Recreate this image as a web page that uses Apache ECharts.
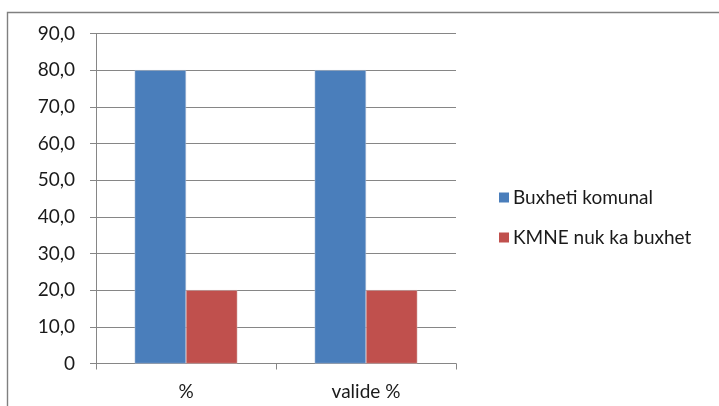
<!DOCTYPE html>
<html>
<head>
<meta charset="utf-8">
<script src="https://cdn.jsdelivr.net/npm/echarts@6/dist/echarts.min.js"></script>
<style>
  html, body { margin: 0; padding: 0; background: #fff; }
  #chart { width: 719px; height: 406px; }
</style>
</head>
<body>
<div id="chart"></div>
<script>
// Categories and series values
const categories = ['%', 'valide %'];
const seriesNames = ['Buxheti komunal', 'KMNE nuk ka buxhet'];
const buxhetiKomunal = [80.0, 80.0];
const kmneNukKaBuxhet = [20.0, 20.0];
const seriesColors = ['#4a7ebb', '#c0504d'];

const FONT = 'Lato, "Open Sans", sans-serif';
const TEXT_COLOR = '#1a1a1a';
const LINE_COLOR = '#868686';

const chart = echarts.init(document.getElementById('chart'), null, { renderer: 'canvas' });

chart.setOption({
  animation: false,
  backgroundColor: '#ffffff',
  graphic: [{
    type: 'rect',
    silent: true,
    shape: { x: 7.5, y: 12.5, width: 730, height: 420 },
    style: { fill: 'none', stroke: '#808080', lineWidth: 1.4 }
  }],
  grid: { left: 96, top: 33.5, width: 360, height: 330, containLabel: false },
  legend: {
    orient: 'vertical',
    left: 494,
    top: 183,
    itemWidth: 10,
    itemHeight: 10,
    itemGap: 21,
    icon: 'rect',
    itemStyle: { borderWidth: 0 },
    textStyle: { fontFamily: FONT, fontSize: 19, color: TEXT_COLOR, padding: [0, 0, 0, -1] },
    data: seriesNames
  },
  xAxis: {
    type: 'category',
    data: categories,
    axisLine: { lineStyle: { color: LINE_COLOR, width: 1 } },
    axisTick: { show: true, length: 6, alignWithLabel: false, lineStyle: { color: LINE_COLOR } },
    axisLabel: { fontFamily: FONT, fontSize: 19, color: TEXT_COLOR, margin: 19 },
    splitLine: { show: false }
  },
  yAxis: {
    type: 'value',
    min: 0,
    max: 90,
    interval: 10,
    axisLine: { show: true, lineStyle: { color: LINE_COLOR, width: 1 } },
    axisTick: { show: true, length: 6, lineStyle: { color: LINE_COLOR } },
    axisLabel: {
      fontFamily: FONT, fontSize: 19, color: TEXT_COLOR, margin: 21,
      formatter: v => v === 0 ? '0' : v.toFixed(1).replace('.', ',')
    },
    splitLine: { show: true, lineStyle: { color: LINE_COLOR, width: 1 } }
  },
  series: [
    {
      name: seriesNames[0],
      type: 'bar',
      data: buxhetiKomunal,
      barGap: '0%',
      barCategoryGap: '43%',
      itemStyle: { color: seriesColors[0], borderColor: '#b9c5d6', borderWidth: 0.5 }
    },
    {
      name: seriesNames[1],
      type: 'bar',
      data: kmneNukKaBuxhet,
      itemStyle: { color: seriesColors[1], borderColor: '#d6b9b8', borderWidth: 0.5 }
    }
  ]
});
</script>
</body>
</html>
